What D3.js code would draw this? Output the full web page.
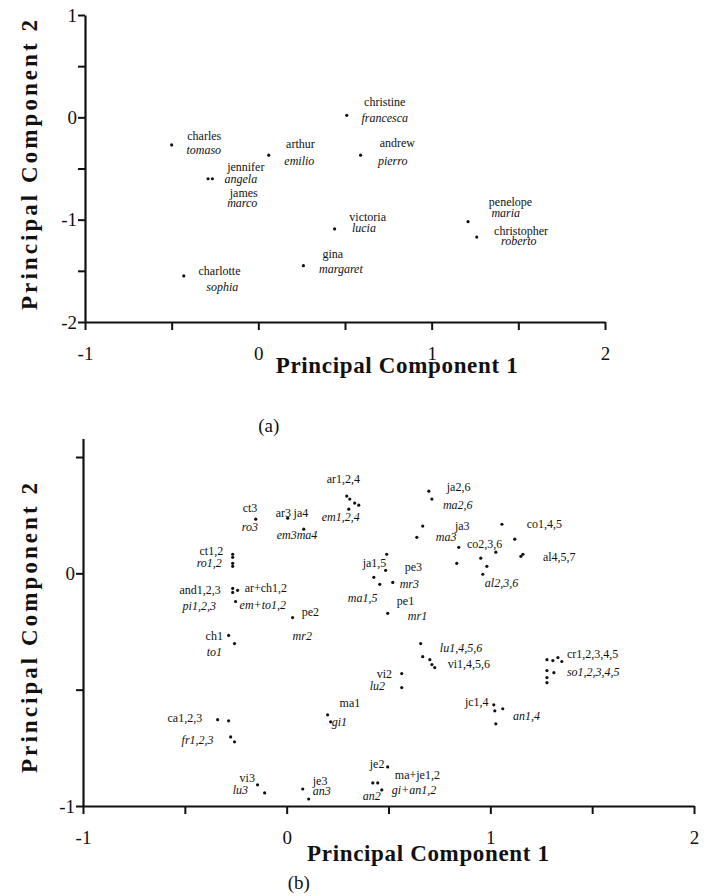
<!DOCTYPE html>
<html>
<head>
<meta charset="utf-8">
<script src="https://cdn.jsdelivr.net/npm/d3@7"></script>
<style>
  body { margin: 0; background: #fff; }
  svg text { font-family: "Liberation Serif", "Times New Roman", serif; fill: #111; }
</style>
</head>
<body>
<svg id="chart" width="706" height="896"></svg>
<script>
// ---- panel (a): one point per person  [pc1, pc2]
const pointsA = [
  [-0.50, -0.27], [-0.29, -0.60], [-0.265, -0.60], [0.06, -0.37],
  [0.51, 0.02], [0.59, -0.37], [0.44, -1.09], [0.26, -1.45],
  [-0.43, -1.55], [1.21, -1.02], [1.26, -1.17]
];
// [text, pc1, pc2, lang]  (en = english tree, it = italian tree)
const labelsA = [
  ["charles", -0.41, -0.18, "en"], ["tomaso", -0.415, -0.32, "it"],
  ["jennifer", -0.18, -0.48, "en"], ["angela", -0.195, -0.605, "it"],
  ["james", -0.165, -0.74, "en"], ["marco", -0.18, -0.84, "it"],
  ["arthur", 0.16, -0.26, "en"], ["emilio", 0.15, -0.42, "it"],
  ["christine", 0.61, 0.15, "en"], ["francesca", 0.595, 0.0, "it"],
  ["andrew", 0.70, -0.25, "en"], ["pierro", 0.69, -0.42, "it"],
  ["victoria", 0.525, -0.97, "en"], ["lucia", 0.54, -1.08, "it"],
  ["gina", 0.37, -1.33, "en"], ["margaret", 0.35, -1.48, "it"],
  ["charlotte", -0.345, -1.50, "en"], ["sophia", -0.30, -1.66, "it"],
  ["penelope", 1.33, -0.83, "en"], ["maria", 1.345, -0.93, "it"],
  ["christopher", 1.36, -1.11, "en"], ["roberto", 1.40, -1.21, "it"]
];

// ---- panel (b): one point per person/relation  [pc1, pc2]
const pointsB = [
  [0.295, 0.332], [0.31, 0.319], [0.334, 0.302], [0.354, 0.293], [0.305, 0.276],
  [0.005, 0.237], [0.084, 0.19], [-0.152, 0.233],
  [-0.265, 0.082], [-0.265, 0.069], [-0.265, 0.043], [-0.265, 0.03],
  [-0.265, -0.065], [-0.265, -0.082], [-0.241, -0.073], [-0.251, -0.121],
  [0.029, -0.19], [-0.285, -0.267], [-0.256, -0.302],
  [-0.339, -0.629], [-0.285, -0.634], [-0.275, -0.703], [-0.256, -0.724],
  [-0.143, -0.909], [-0.108, -0.944], [0.079, -0.927], [0.108, -0.97],
  [0.201, -0.608], [0.216, -0.638], [0.565, -0.431], [0.565, -0.491],
  [0.496, -0.832], [0.423, -0.901], [0.447, -0.901], [0.467, -0.931],
  [0.658, -0.302], [0.668, -0.358], [0.703, -0.371], [0.713, -0.392], [0.727, -0.405],
  [1.278, -0.371], [1.307, -0.375], [1.332, -0.362], [1.351, -0.379],
  [1.278, -0.418], [1.312, -0.427], [1.278, -0.448], [1.278, -0.47],
  [1.017, -0.565], [1.022, -0.591], [1.061, -0.582], [1.027, -0.647],
  [0.496, -0.172], [0.521, -0.039], [0.491, 0.082], [0.486, 0.013],
  [0.428, -0.017], [0.457, -0.047],
  [0.668, 0.203], [0.639, 0.155], [0.698, 0.353], [0.713, 0.319],
  [1.057, 0.211], [0.845, 0.112], [1.12, 0.147], [1.027, 0.091],
  [1.15, 0.073], [1.16, 0.082], [0.835, 0.043], [0.953, 0.065],
  [0.983, 0.03], [0.963, -0.004]
];
const labelsB = [
  ["ar1,2,4", 0.197, 0.405, "en"], ["em1,2,4", 0.172, 0.241, "it"],
  ["ct3", -0.216, 0.28, "en"], ["ar3", -0.054, 0.259, "en"], ["ja4", 0.034, 0.259, "en"],
  ["ro3", -0.221, 0.198, "it"], ["em3", -0.049, 0.164, "it"], ["ma4", 0.049, 0.164, "it"],
  ["ct1,2", -0.428, 0.099, "en"], ["ro1,2", -0.442, 0.047, "it"],
  ["and1,2,3", -0.526, -0.069, "en"], ["ar+ch1,2", -0.206, -0.06, "en"],
  ["pi1,2,3", -0.511, -0.138, "it"], ["em+to1,2", -0.231, -0.134, "it"],
  ["pe2", 0.074, -0.164, "en"], ["ch1", -0.398, -0.267, "en"],
  ["mr2", 0.029, -0.267, "it"], ["to1", -0.393, -0.336, "it"],
  ["ja2,6", 0.786, 0.371, "en"], ["ma2,6", 0.767, 0.293, "it"],
  ["ja3", 0.826, 0.203, "en"], ["ma3", 0.732, 0.155, "it"],
  ["co1,4,5", 1.179, 0.211, "en"], ["co2,3,6", 0.885, 0.125, "en"],
  ["al4,5,7", 1.258, 0.069, "en"], ["al2,3,6", 0.973, -0.039, "it"],
  ["ja1,5", 0.373, 0.047, "en"], ["pe3", 0.58, 0.03, "en"],
  ["mr3", 0.555, -0.043, "it"], ["ma1,5", 0.30, -0.103, "it"],
  ["pe1", 0.541, -0.116, "en"], ["mr1", 0.595, -0.181, "it"],
  ["lu1,4,5,6", 0.752, -0.319, "it"], ["vi1,4,5,6", 0.791, -0.388, "en"],
  ["cr1,2,3,4,5", 1.376, -0.345, "en"], ["so1,2,3,4,5", 1.376, -0.422, "it"],
  ["vi2", 0.442, -0.431, "en"], ["lu2", 0.408, -0.483, "it"],
  ["ma1", 0.26, -0.556, "en"], ["gi1", 0.221, -0.638, "it"],
  ["jc1,4", 0.875, -0.552, "en"], ["an1,4", 1.111, -0.612, "it"],
  ["ca1,2,3", -0.585, -0.621, "en"], ["fr1,2,3", -0.516, -0.716, "it"],
  ["vi3", -0.231, -0.879, "en"], ["lu3", -0.265, -0.931, "it"],
  ["je3", 0.128, -0.892, "en"], ["an3", 0.128, -0.935, "it"],
  ["je2", 0.408, -0.819, "en"], ["ma+je1,2", 0.531, -0.866, "en"],
  ["gi+an1,2", 0.516, -0.931, "it"], ["an2", 0.373, -0.957, "it"]
];

const xTicks = [-1, -0.5, 0, 0.5, 1, 1.5, 2];
const yTicksA = [-2, -1.5, -1, -0.5, 0, 0.5, 1];
const yTicksB = [-1, -0.5, 0, 0.5];
const xTitle = "Principal Component 1";
const yTitle = "Principal  Component  2";

class PcaPlot {

  constructor(config, points, labels) {
    this.config = {
      parent: config.parent,
      xRange: config.xRange,
      yRange: config.yRange,
      xDomain: config.xDomain,
      yDomain: config.yDomain,
      yTicks: config.yTicks,
      titleY: config.titleY,
      yTitleY: config.yTitleY,
      caption: config.caption,
      captionY: config.captionY
    };
    this.points = points;
    this.labels = labels;
    this.init();
  }

  init() {
    let self = this;
    self.svg = d3.select(self.config.parent);
    self.chart = self.svg.append('g');

    self.xScale = d3.scaleLinear().domain(self.config.xDomain).range(self.config.xRange);
    self.yScale = d3.scaleLinear().domain(self.config.yDomain).range(self.config.yRange);

    self.xAxis = d3.axisBottom(self.xScale)
      .tickValues(xTicks)
      .tickFormat(d => Number.isInteger(d) ? String(d) : "")
      .tickSize(8)
      .tickSizeOuter(0)
      .tickPadding(17);

    self.yAxis = d3.axisLeft(self.yScale)
      .tickValues(self.config.yTicks)
      .tickFormat(d => Number.isInteger(d) ? String(d) : "")
      .tickSize(7)
      .tickSizeOuter(0)
      .tickPadding(1);
  }

  render() {
    let self = this;
    let y0 = self.config.yRange[0];
    let x0 = self.config.xRange[0];

    let gx = self.chart.append('g')
      .attr('transform', `translate(0, ${y0})`)
      .call(self.xAxis);
    let gy = self.chart.append('g')
      .attr('transform', `translate(${x0}, 0)`)
      .call(self.yAxis);

    [gx, gy].forEach(g => {
      g.select('.domain').attr('stroke', '#111').attr('stroke-width', 2.2);
      g.selectAll('.tick line').attr('stroke', '#111').attr('stroke-width', 2);
      g.selectAll('.tick text')
        .attr('font-family', '"Liberation Serif", serif')
        .attr('font-size', '19px')
        .attr('fill', '#111');
    });

    // axis titles
    self.chart.append('text')
      .attr('x', self.xScale(0.1))
      .attr('y', self.config.titleY)
      .attr('font-size', '23px')
      .attr('font-weight', 'bold')
      .attr('textLength', 242)
      .attr('lengthAdjust', 'spacing')
      .text(xTitle);

    self.chart.append('text')
      .attr('transform', `translate(37, ${self.config.yTitleY}) rotate(-90)`)
      .attr('text-anchor', 'middle')
      .attr('font-size', '23px')
      .attr('font-weight', 'bold')
      .attr('textLength', 290)
      .attr('lengthAdjust', 'spacing')
      .text(yTitle);

    self.chart.append('text')
      .attr('x', self.xScale(0.06))
      .attr('y', self.config.captionY)
      .attr('text-anchor', 'middle')
      .attr('font-size', '19px')
      .text(self.config.caption);

    // points
    self.chart.selectAll('circle.pt')
      .data(self.points)
      .enter()
      .append('circle')
      .attr('class', 'pt')
      .attr('cx', d => self.xScale(d[0]))
      .attr('cy', d => self.yScale(d[1]))
      .attr('r', 1.6)
      .attr('fill', '#111');

    // names
    self.chart.selectAll('text.lbl')
      .data(self.labels)
      .enter()
      .append('text')
      .attr('class', 'lbl')
      .attr('x', d => self.xScale(d[1]))
      .attr('y', d => self.yScale(d[2]))
      .attr('dy', '0.35em')
      .attr('font-size', '12px')
      .attr('font-style', d => d[3] == "it" ? 'italic' : 'normal')
      .text(d => d[0]);
  }
}

let plotA = new PcaPlot({
  parent: '#chart',
  xRange: [85, 605],
  yRange: [322, 15],
  xDomain: [-1, 2],
  yDomain: [-2, 1],
  yTicks: yTicksA,
  titleY: 373,
  yTitleY: 165,
  caption: "(a)",
  captionY: 432
}, pointsA, labelsA);
plotA.render();

let plotB = new PcaPlot({
  parent: '#chart',
  xRange: [83, 694],
  yRange: [806, 438.4],
  xDomain: [-1, 2],
  yDomain: [-1, 0.58],
  yTicks: yTicksB,
  titleY: 861,
  yTitleY: 628,
  caption: "(b)",
  captionY: 889
}, pointsB, labelsB);
plotB.render();
</script>
</body>
</html>
